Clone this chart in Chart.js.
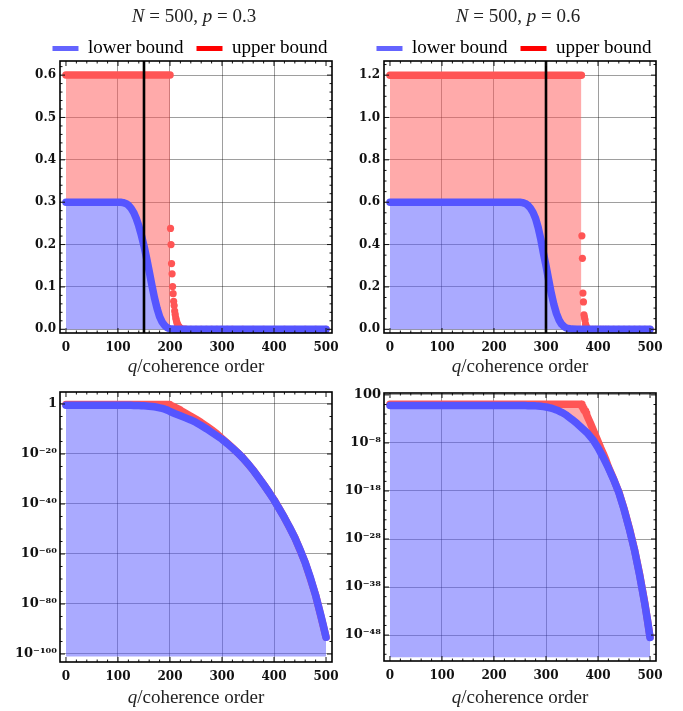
<!DOCTYPE html>
<html lang="en">
<head>
    <meta charset="UTF-8">
    <title>Coherence order bounds</title>
    <script src="https://cdn.jsdelivr.net/npm/chart.js"></script>
    <style>
        body {
            margin: 0;
            background: #fff;
        }
        #page {
            position: relative;
            width: 683px;
            height: 711px;
        }
        canvas {
            position: absolute;
        }
        .title, .xlabel {
            position: absolute;
            width: 300px;
            text-align: center;
            font-family: "Liberation Serif", serif;
            font-size: 19px;
            line-height: 24px;
            color: #222;
            white-space: nowrap;
        }
    </style>
</head>
<body>
<div id="page">
    <canvas id="c1" width="341" height="372" style="left:0;top:0"></canvas>
    <canvas id="c2" width="342" height="372" style="left:341px;top:0"></canvas>
    <canvas id="c3" width="341" height="339" style="left:0;top:372px"></canvas>
    <canvas id="c4" width="342" height="339" style="left:341px;top:372px"></canvas>
    <div class="title" style="left:44px;top:4px"><i>N</i> = 500, <i>p</i> = 0.3</div>
    <div class="title" style="left:368px;top:4px"><i>N</i> = 500, <i>p</i> = 0.6</div>
    <div class="xlabel" style="left:46px;top:354px"><i>q</i>/coherence order</div>
    <div class="xlabel" style="left:370px;top:354px"><i>q</i>/coherence order</div>
    <div class="xlabel" style="left:46px;top:685px"><i>q</i>/coherence order</div>
    <div class="xlabel" style="left:370px;top:685px"><i>q</i>/coherence order</div>
</div>

<script>
    // axis ticks and labels
    const xTicks = [0, 100, 200, 300, 400, 500];
    const yTicks03 = [0, 0.1, 0.2, 0.3, 0.4, 0.5, 0.6];
    const yTicks06 = [0, 0.2, 0.4, 0.6, 0.8, 1.0, 1.2];
    const logTicks03 = [1, 1e-20, 1e-40, 1e-60, 1e-80, 1e-100];
    const logLabels03 = ['1', '10⁻²⁰', '10⁻⁴⁰', '10⁻⁶⁰', '10⁻⁸⁰', '10⁻¹⁰⁰'];
    const logTicks06 = [100, 1e-8, 1e-18, 1e-28, 1e-38, 1e-48];
    const logLabels06 = ['100', '10⁻⁸', '10⁻¹⁸', '10⁻²⁸', '10⁻³⁸', '10⁻⁴⁸'];

    // N = 500, p = 0.3
    const qLower03 = [0, 10, 20, 30, 40, 50, 60, 70, 80, 90, 100,
        105, 110, 115, 120, 125, 130, 135, 140, 145, 150,
        155, 160, 165, 170, 175, 180, 185, 190, 195, 200,
        210, 220, 230, 240, 250, 260, 270, 280, 290, 300,
        310, 320, 330, 340, 350, 360, 370, 380, 390, 400,
        410, 420, 430, 440, 450, 460, 470, 480, 490, 495, 500];
    const lower03 = [0.3, 0.3, 0.3, 0.3, 0.3, 0.3, 0.3, 0.3, 0.3, 0.3, 0.3,
        0.3, 0.299, 0.297, 0.293, 0.286, 0.276, 0.262, 0.244, 0.222, 0.197,
        0.168, 0.137, 0.105, 0.075, 0.050, 0.030, 0.017, 0.0085, 0.0035, 1.0e-3,
        1.3e-4, 2.0e-5, 2.8e-6, 4.0e-7, 4.0e-8, 2.5e-9, 1.3e-10, 5.0e-12, 2.0e-13, 8.0e-15,
        1.6e-16, 2.5e-18, 3.2e-20, 2.5e-22, 1.3e-24, 3.2e-27, 5.0e-30, 6.3e-33, 6.3e-36, 4.0e-39,
        1.3e-42, 3.2e-46, 5.0e-50, 3.2e-54, 6.3e-59, 3.2e-64, 3.2e-70, 3.2e-77, 3.2e-85, 1.6e-89, 5.0e-94];

    const qUpper03 = [0, 10, 20, 30, 40, 50, 60, 70, 80, 90, 100,
        110, 120, 130, 140, 150, 160, 170, 180, 190, 200,
        201, 202, 203, 204, 205, 206, 207, 208, 209, 210,
        211, 212, 213, 214, 215, 216, 217, 218, 219, 220,
        225, 230, 240, 250, 260, 270, 280, 290, 300, 310,
        320, 340, 360, 380, 400, 420, 440, 460, 480, 500];
    const upper03 = [0.6, 0.6, 0.6, 0.6, 0.6, 0.6, 0.6, 0.6, 0.6, 0.6, 0.6,
        0.6, 0.6, 0.6, 0.6, 0.6, 0.6, 0.6, 0.6, 0.6, 0.6,
        0.238, 0.200, 0.155, 0.131, 0.101, 0.084, 0.066, 0.056, 0.043, 0.035,
        0.027, 0.022, 0.017, 0.013, 0.010, 0.0078, 0.006, 0.0046, 0.0035, 0.0027,
        7.0e-4, 1.8e-4, 1.3e-5, 8.0e-7, 4.0e-8, 1.6e-9, 5.0e-11, 1.3e-12, 1.6e-14, 2.5e-16,
        3.0e-18, 3.0e-22, 3.5e-27, 7.0e-33, 5.0e-39, 3.5e-46, 4.0e-54, 3.5e-64, 3.5e-77, 5.5e-94];

    // N = 500, p = 0.6
    const qLower06 = [0, 10, 20, 30, 40, 50, 60, 70, 80, 90, 100,
        110, 120, 130, 140, 150, 160, 170, 180, 190, 200,
        210, 220, 230, 240, 250, 255, 260, 265, 270, 275,
        280, 285, 290, 295, 300, 305, 310, 315, 320, 325,
        330, 335, 340, 350, 360, 370, 380, 390, 400, 410,
        420, 430, 440, 450, 460, 470, 480, 490, 495, 500];
    const lower06 = [0.6, 0.6, 0.6, 0.6, 0.6, 0.6, 0.6, 0.6, 0.6, 0.6, 0.6,
        0.6, 0.6, 0.6, 0.6, 0.6, 0.6, 0.6, 0.6, 0.6, 0.6,
        0.6, 0.6, 0.6, 0.6, 0.6, 0.598, 0.594, 0.586, 0.572, 0.552,
        0.523, 0.480, 0.425, 0.360, 0.300, 0.235, 0.172, 0.118, 0.075, 0.044,
        0.024, 0.012, 5.2e-3, 8.0e-4, 1.0e-4, 1.0e-5, 1.0e-6, 5.0e-8, 1.0e-9, 1.0e-11,
        6.3e-14, 2.5e-16, 5.0e-19, 1.6e-22, 1.6e-26, 6.3e-31, 3.2e-36, 3.2e-42, 1.6e-45, 3.2e-49];

    const qUpper06 = [0, 10, 20, 30, 40, 50, 60, 70, 80, 90, 100,
        110, 120, 130, 140, 150, 160, 170, 180, 190, 200,
        210, 220, 230, 240, 250, 260, 270, 280, 290, 300,
        310, 320, 330, 340, 350, 360, 368,
        369, 370, 371, 372, 373, 374, 375, 376, 377, 378,
        380, 385, 390, 395, 400, 405, 410, 415, 420,
        430, 440, 450, 460, 470, 480, 490, 500];
    const upper06 = [1.2, 1.2, 1.2, 1.2, 1.2, 1.2, 1.2, 1.2, 1.2, 1.2, 1.2,
        1.2, 1.2, 1.2, 1.2, 1.2, 1.2, 1.2, 1.2, 1.2, 1.2,
        1.2, 1.2, 1.2, 1.2, 1.2, 1.2, 1.2, 1.2, 1.2, 1.2,
        1.2, 1.2, 1.2, 1.2, 1.2, 1.2, 1.2,
        0.441, 0.335, 0.171, 0.129, 0.068, 0.056, 0.044, 0.025, 0.016, 0.008,
        2.5e-3, 1.6e-4, 8.0e-6, 4.0e-7, 2.0e-8, 1.0e-9, 6.3e-11, 3.2e-12, 1.0e-13,
        3.0e-16, 6.0e-19, 2.0e-22, 2.0e-26, 7.0e-31, 4.0e-36, 4.0e-42, 4.0e-49];

    // last q of the flat upper bound, and q of the vertical marker
    const flatEnd = [200, 368];
    const markerQ = [150, 300];

    const BLUE = 'rgb(85, 85, 255)';
    const RED = 'rgb(255, 85, 85)';
    const BLUE_FILL = 'rgba(85, 85, 255, 0.5)';
    const RED_FILL = 'rgba(255, 85, 85, 0.5)';
    const tickFont = {family: 'DejaVu Serif', weight: 'bold', size: 12};

    const pts = (qs, vs) => qs.map((q, i) => ({x: q, y: vs[i]}));

    // frame with inward ticks on all sides, plus the black marker line
    const framePlugin = {
        id: 'frame',
        afterDatasetsDraw(chart, args, opts) {
            const {ctx, chartArea: a} = chart;
            const xs = chart.scales.x, ys = chart.scales.y;
            ctx.save();
            if (opts.marker != null) {
                const px = xs.getPixelForValue(opts.marker);
                ctx.strokeStyle = '#000';
                ctx.lineWidth = 2.6;
                ctx.beginPath();
                ctx.moveTo(px, a.top);
                ctx.lineTo(px, a.bottom);
                ctx.stroke();
            }
            ctx.strokeStyle = '#111';
            ctx.lineWidth = 1;
            ctx.beginPath();
            const xMark = (v, len) => {
                const px = xs.getPixelForValue(v);
                ctx.moveTo(px, a.bottom); ctx.lineTo(px, a.bottom - len);
                ctx.moveTo(px, a.top); ctx.lineTo(px, a.top + len);
            };
            const yMark = (v, len) => {
                const py = ys.getPixelForValue(v);
                if (py < a.top || py > a.bottom) return;
                ctx.moveTo(a.left, py); ctx.lineTo(a.left + len, py);
                ctx.moveTo(a.right, py); ctx.lineTo(a.right - len, py);
            };
            opts.xMajor.forEach(v => xMark(v, 5));
            opts.xMinor.forEach(v => xMark(v, 2.5));
            opts.yMajor.forEach(v => yMark(v, 5));
            opts.yMinor.forEach(v => yMark(v, 2.5));
            ctx.stroke();
            ctx.lineWidth = 1.6;
            ctx.strokeStyle = '#000';
            ctx.strokeRect(a.left, a.top, a.right - a.left, a.bottom - a.top);
            ctx.restore();
        }
    };

    // centre the legend row over the frame and pull it closer to it
    const legendNudge = {
        id: 'legendNudge',
        afterLayout(chart) {
            if (chart.options.plugins.legend.display) {
                const a = chart.chartArea;
                chart.legend.left = a.left - 26;
                chart.legend.right = a.right + 14;
                chart.legend.top += 7;
                chart.legend.bottom += 7;
            }
        }
    };

    const legendOpts = {
        display: true,
        position: 'top',
        fullSize: true,
        labels: {
            font: {family: 'Liberation Serif', size: 19},
            color: '#222',
            boxWidth: 26,
            boxHeight: 5,
            padding: 13,
            generateLabels: () => [
                {text: 'lower bound', fillStyle: 'rgb(100, 100, 255)', strokeStyle: 'rgb(100, 100, 255)', lineWidth: 0, datasetIndex: 0},
                {text: 'upper bound', fillStyle: 'rgb(255, 0, 0)', strokeStyle: 'rgb(255, 0, 0)', lineWidth: 0, datasetIndex: 1}
            ]
        }
    };

    function xScale() {
        return {
            type: 'linear',
            min: -11.5,
            max: 511.5,
            afterBuildTicks: s => { s.ticks = xTicks.map(v => ({value: v})); },
            afterFit: s => {
                s.height = 26;
                s.paddingLeft = 0;
                s.paddingRight = 0;
            },
            border: {display: false},
            grid: {
                drawTicks: false,
                lineWidth: 1,
                color: c => (c.tick && (c.tick.value === 0 || c.tick.value === 500)) ? 'rgba(0,0,0,0)' : 'rgba(0,0,0,0.38)'
            },
            ticks: {font: tickFont, color: '#111', padding: 8, maxRotation: 0, autoSkip: false}
        };
    }

    function linY(min, max, ticks, width) {
        return {
            type: 'linear',
            min: min,
            max: max,
            afterBuildTicks: s => { s.ticks = ticks.map(v => ({value: v})); },
            afterFit: s => {
                s.width = width;
                s.paddingTop = 0;
                s.paddingBottom = 0;
            },
            border: {display: false},
            grid: {drawTicks: false, lineWidth: 1, color: 'rgba(0,0,0,0.38)'},
            ticks: {font: tickFont, color: '#111', padding: 4, autoSkip: false, callback: v => v.toFixed(1)}
        };
    }

    function logY(min, max, ticks, labels, width) {
        return {
            type: 'logarithmic',
            min: min,
            max: max,
            afterBuildTicks: s => { s.ticks = ticks.map(v => ({value: v})); },
            afterFit: s => {
                s.width = width;
                s.paddingTop = 0;
                s.paddingBottom = 0;
            },
            border: {display: false},
            grid: {drawTicks: false, lineWidth: 1, color: 'rgba(0,0,0,0.38)'},
            ticks: {font: {family: 'DejaVu Serif', weight: 'bold', size: 13}, color: '#111', padding: 3,
                autoSkip: false, callback: (v, i) => labels[i]}
        };
    }

    function linearSets(qL, lower, qU, upper, end) {
        const up = pts(qU, upper);
        return [
            {data: pts(qL, lower), borderColor: BLUE, backgroundColor: BLUE_FILL, fill: {value: 0}},
            {data: up.filter(p => p.x <= end), borderColor: RED, backgroundColor: RED_FILL, fill: 0},
            {data: up.filter(p => p.x > end), showLine: false, pointRadius: 3.6,
                pointBackgroundColor: RED, pointBorderWidth: 0, fill: false}
        ];
    }

    function logSets(qL, lower, qU, upper, floor) {
        return [
            {data: pts(qL, lower), borderColor: BLUE, backgroundColor: BLUE_FILL, fill: {value: floor}},
            {data: pts(qU, upper), borderColor: RED, backgroundColor: RED_FILL, fill: 0}
        ];
    }

    function steps(from, to, step, skip) {
        const out = [];
        for (let v = from; v <= to + 1e-9; v += step) {
            if (!skip.some(s => Math.abs(s - v) < 1e-9)) out.push(v);
        }
        return out;
    }
    const xMinor = steps(0, 500, 20, xTicks);

    function makeChart(id, datasets, y, legend, padding, frame) {
        return new Chart(document.getElementById(id), {
            type: 'line',
            data: {datasets: datasets},
            options: {
                responsive: false,
                animation: false,
                devicePixelRatio: 1,
                events: [],
                layout: {padding: padding},
                elements: {
                    line: {borderWidth: 7.5, borderCapStyle: 'round', borderJoinStyle: 'round', tension: 0},
                    point: {radius: 0, hoverRadius: 0}
                },
                scales: {x: xScale(), y: y},
                plugins: {
                    legend: legend ? legendOpts : {display: false},
                    tooltip: {enabled: false},
                    frame: frame
                }
            },
            plugins: [framePlugin, legendNudge]
        });
    }

    makeChart('c1',
        linearSets(qLower03, lower03, qUpper03, upper03, flatEnd[0]),
        linY(-0.0088, 0.6333, yTicks03, 60),
        true, {top: 19, left: 0, right: 9, bottom: 13},
        {marker: markerQ[0], xMajor: xTicks, xMinor: xMinor,
            yMajor: yTicks03, yMinor: steps(0, 0.62, 0.02, yTicks03)});

    makeChart('c2',
        linearSets(qLower06, lower06, qUpper06, upper06, flatEnd[1]),
        linY(-0.0176, 1.2667, yTicks06, 43),
        true, {top: 19, left: 0, right: 27, bottom: 13},
        {marker: markerQ[1], xMajor: xTicks, xMinor: xMinor,
            yMajor: yTicks06, yMinor: steps(0, 1.25, 0.05, yTicks06)});

    makeChart('c3',
        logSets(qLower03, lower03, qUpper03, upper03, 1e-101),
        logY(6.3e-104, 6.3e4, logTicks03, logLabels03, 60),
        false, {top: 20, left: 0, right: 9, bottom: 23},
        {marker: null, xMajor: xTicks, xMinor: xMinor,
            yMajor: logTicks03, yMinor: steps(-100, 0, 5, [0, -20, -40, -60, -80, -100]).map(e => Math.pow(10, e))});

    makeChart('c4',
        logSets(qLower06, lower06, qUpper06, upper06, 2.5e-53),
        logY(4e-54, 250, logTicks06, logLabels06, 43),
        false, {top: 21, left: 0, right: 27, bottom: 24},
        {marker: null, xMajor: xTicks, xMinor: xMinor,
            yMajor: logTicks06, yMinor: steps(-52, 2, 2, [2, -8, -18, -28, -38, -48]).map(e => Math.pow(10, e))});
</script>
</body>
</html>
